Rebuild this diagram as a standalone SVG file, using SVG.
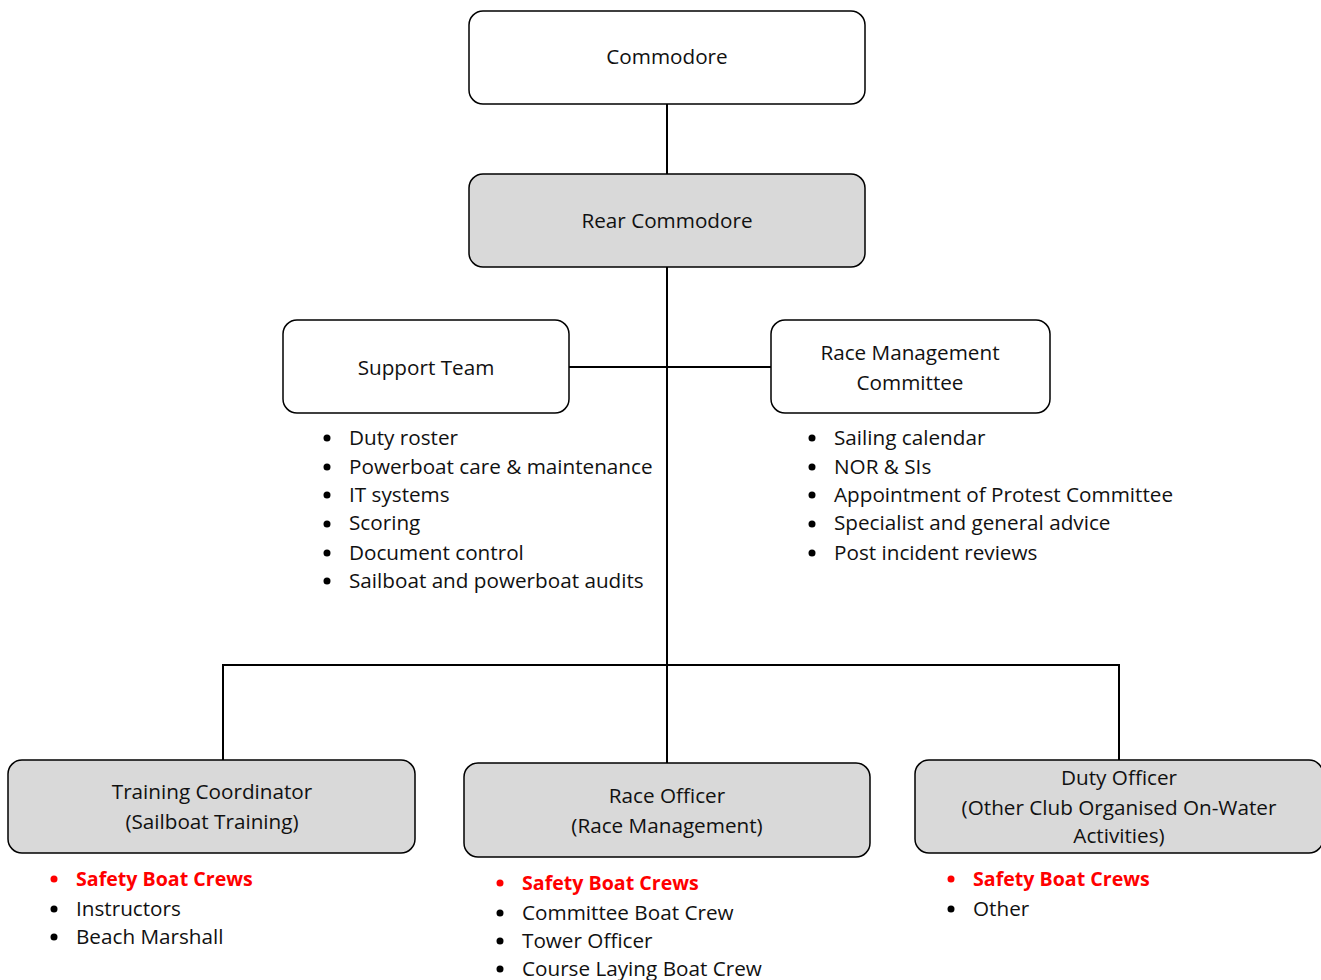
<svg xmlns="http://www.w3.org/2000/svg" width="1321" height="980" viewBox="0 0 1321 980">
<style>
.box{stroke:#000;stroke-width:1.5}
.w{fill:#fff}
.g{fill:#d9d9d9}
text{font-family:"Open Sans","Noto Sans",sans-serif;font-size:20.7px;fill:#111}
.c{text-anchor:middle}
.red{fill:#ff0000;font-weight:bold;font-size:19.6px}
.conn line{stroke:#000;stroke-width:2}
.dot{fill:#000}
.rdot{fill:#ff0000}
</style>
<rect width="1321" height="980" fill="#fff"/>
<g id="connectors" class="conn">
<line x1="667" y1="104" x2="667" y2="174"/>
<line x1="667" y1="267" x2="667" y2="763"/>
<line x1="569" y1="367" x2="771" y2="367"/>
<line x1="223" y1="665" x2="1119" y2="665"/>
<line x1="223" y1="664" x2="223" y2="760"/>
<line x1="1119" y1="664" x2="1119" y2="760"/>
</g>
<g id="commodore">
<rect class="box w" x="469" y="11" width="396" height="93" rx="14"/>
<text class="c" x="667" y="64">Commodore</text>
</g>
<g id="rear-commodore">
<rect class="box g" x="469" y="174" width="396" height="93" rx="14"/>
<text class="c" x="667" y="228">Rear Commodore</text>
</g>
<g id="support-team">
<rect class="box w" x="283" y="320" width="286" height="93" rx="14"/>
<text class="c" x="426" y="375">Support Team</text>
<g>
<circle class="dot" cx="327" cy="438" r="3.5"/><text x="349" y="445">Duty roster</text>
<circle class="dot" cx="327" cy="467" r="3.5"/><text x="349" y="474">Powerboat care &amp; maintenance</text>
<circle class="dot" cx="327" cy="495" r="3.5"/><text x="349" y="502">IT systems</text>
<circle class="dot" cx="327" cy="524" r="3.5"/><text x="349" y="530">Scoring</text>
<circle class="dot" cx="327" cy="553" r="3.5"/><text x="349" y="560">Document control</text>
<circle class="dot" cx="327" cy="581" r="3.5"/><text x="349" y="588">Sailboat and powerboat audits</text>
</g>
</g>
<g id="race-management-committee">
<rect class="box w" x="771" y="320" width="279" height="93" rx="14"/>
<text class="c" x="910" y="360">Race Management</text>
<text class="c" x="910" y="390">Committee</text>
<g>
<circle class="dot" cx="812" cy="438" r="3.5"/><text x="834" y="445">Sailing calendar</text>
<circle class="dot" cx="812" cy="467" r="3.5"/><text x="834" y="474">NOR &amp; SIs</text>
<circle class="dot" cx="812" cy="495" r="3.5"/><text x="834" y="502">Appointment of Protest Committee</text>
<circle class="dot" cx="812" cy="524" r="3.5"/><text x="834" y="530">Specialist and general advice</text>
<circle class="dot" cx="812" cy="553" r="3.5"/><text x="834" y="560">Post incident reviews</text>
</g>
</g>
<g id="training-coordinator">
<rect class="box g" x="8" y="760" width="407" height="93" rx="14"/>
<text class="c" x="212" y="799">Training Coordinator</text>
<text class="c" x="212" y="829">(Sailboat Training)</text>
<g>
<circle class="rdot" cx="54" cy="879" r="3.5"/><text class="red" x="76" y="886">Safety Boat Crews</text>
<circle class="dot" cx="54" cy="909" r="3.5"/><text x="76" y="916">Instructors</text>
<circle class="dot" cx="54" cy="937" r="3.5"/><text x="76" y="944">Beach Marshall</text>
</g>
</g>
<g id="race-officer">
<rect class="box g" x="464" y="763" width="406" height="94" rx="14"/>
<text class="c" x="667" y="803">Race Officer</text>
<text class="c" x="667" y="833">(Race Management)</text>
<g>
<circle class="rdot" cx="500" cy="883" r="3.5"/><text class="red" x="522" y="890">Safety Boat Crews</text>
<circle class="dot" cx="500" cy="913" r="3.5"/><text x="522" y="920">Committee Boat Crew</text>
<circle class="dot" cx="500" cy="941" r="3.5"/><text x="522" y="948">Tower Officer</text>
<circle class="dot" cx="500" cy="969" r="3.5"/><text x="522" y="976">Course Laying Boat Crew</text>
</g>
</g>
<g id="duty-officer">
<rect class="box g" x="915" y="760" width="408" height="93" rx="14"/>
<text class="c" x="1119" y="785">Duty Officer</text>
<text class="c" x="1119" y="815">(Other Club Organised On-Water</text>
<text class="c" x="1119" y="843">Activities)</text>
<g>
<circle class="rdot" cx="951" cy="879" r="3.5"/><text class="red" x="973" y="886">Safety Boat Crews</text>
<circle class="dot" cx="951" cy="909" r="3.5"/><text x="973" y="916">Other</text>
</g>
</g>
</svg>
